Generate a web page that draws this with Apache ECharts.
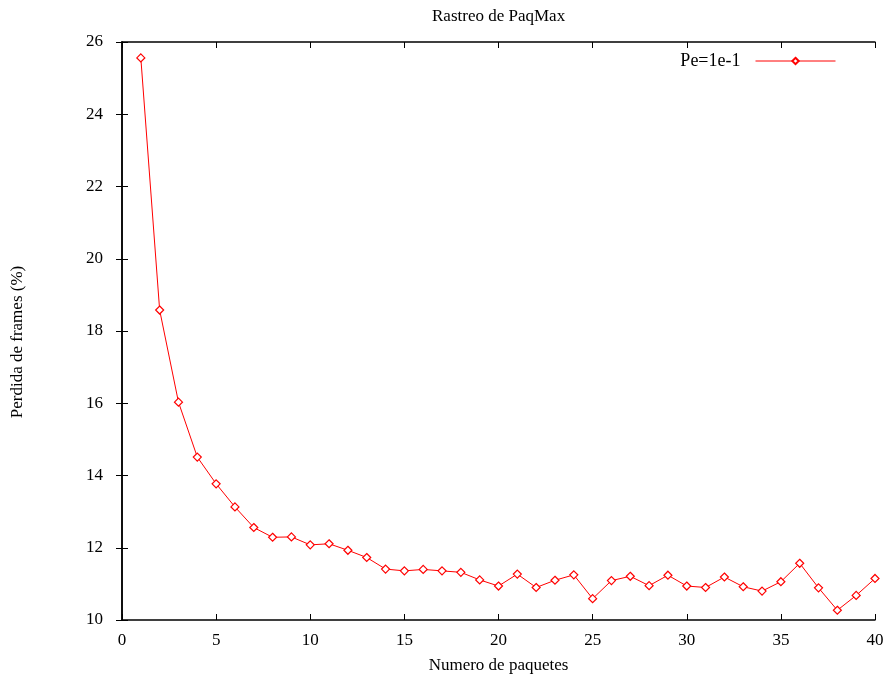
<!DOCTYPE html>
<html>
<head>
<meta charset="utf-8">
<style>
  html, body { margin: 0; padding: 0; background: #fff; }
  #chart { width: 887px; height: 680px; }
</style>
<script src="https://cdn.jsdelivr.net/npm/echarts@6/dist/echarts.min.js"></script>
</head>
<body>
<div id="chart"></div>
<script>
const packets = [1, 2, 3, 4, 5, 6, 7, 8, 9, 10, 11, 12, 13, 14, 15, 16, 17, 18, 19, 20,
  21, 22, 23, 24, 25, 26, 27, 28, 29, 30, 31, 32, 33, 34, 35, 36, 37, 38, 39, 40]
const frameLoss = [25.56, 18.58, 16.03, 14.51, 13.77, 13.13, 12.56, 12.29, 12.30, 12.08,
  12.11, 11.93, 11.73, 11.41, 11.36, 11.40, 11.36, 11.32, 11.11, 10.94,
  11.27, 10.90, 11.10, 11.25, 10.59, 11.09, 11.21, 10.95, 11.24, 10.94,
  10.90, 11.19, 10.92, 10.80, 11.06, 11.57, 10.89, 10.27, 10.68, 11.15]
const seriesName = 'Pe=1e-1'

const font = 'Liberation Serif'
const chart = echarts.init(document.getElementById('chart'))

const baseAxis = {
  axisLine: { show: true, lineStyle: { color: '#000', width: 1.5 } },
  axisTick: { show: true, inside: true, length: 6, lineStyle: { color: '#000' } },
  splitLine: { show: false }
}

chart.setOption({
  animation: false,
  backgroundColor: '#fff',
  title: {
    text: 'Rastreo de PaqMax',
    left: 427,
    top: 3,
    textStyle: { fontFamily: font, fontSize: 17, fontWeight: 'normal', color: '#000' }
  },
  legend: {
    data: [seriesName],
    right: 46,
    top: 47,
    align: 'right',
    itemWidth: 80,
    itemHeight: 8,
    itemGap: 15,
    lineStyle: { width: 1 },
    textStyle: { fontFamily: font, fontSize: 18, color: '#000', padding: [0, 10, 0, 0] }
  },
  grid: { left: 122, right: 12, top: 42, bottom: 60, outerBoundsMode: 'none', containLabel: false },
  xAxis: [
    {
      ...baseAxis,
      type: 'value',
      min: 0,
      max: 40,
      interval: 5,
      name: 'Numero de paquetes',
      nameLocation: 'middle',
      nameGap: 37,
      nameTextStyle: { fontFamily: font, fontSize: 17, color: '#000' },
      axisLabel: { fontFamily: font, fontSize: 17, color: '#000', margin: 12 }
    },
    {
      ...baseAxis,
      type: 'value',
      position: 'top',
      min: 0,
      max: 40,
      interval: 5,
      axisLabel: { show: false }
    }
  ],
  yAxis: [
    {
      ...baseAxis,
      type: 'value',
      min: 10,
      max: 26,
      interval: 2,
      name: 'Perdida de frames (%)',
      nameLocation: 'middle',
      nameGap: 96,
      nameTextStyle: { fontFamily: font, fontSize: 17, color: '#000', padding: [0, 22, 0, 0] },
      axisLabel: { fontFamily: font, fontSize: 17, color: '#000', margin: 19 }
    },
    {
      ...baseAxis,
      type: 'value',
      position: 'right',
      min: 10,
      max: 26,
      interval: 2,
      axisLabel: { show: false }
    }
  ],
  series: [
    {
      name: seriesName,
      type: 'line',
      data: packets.map((p, i) => [p, frameLoss[i]]),
      symbol: 'diamond',
      symbolSize: 8,
      showAllSymbol: true,
      lineStyle: { color: '#ff0000', width: 1 },
      itemStyle: { color: '#fff', borderColor: '#ff0000', borderWidth: 1.2 }
    }
  ]
})
</script>
</body>
</html>
